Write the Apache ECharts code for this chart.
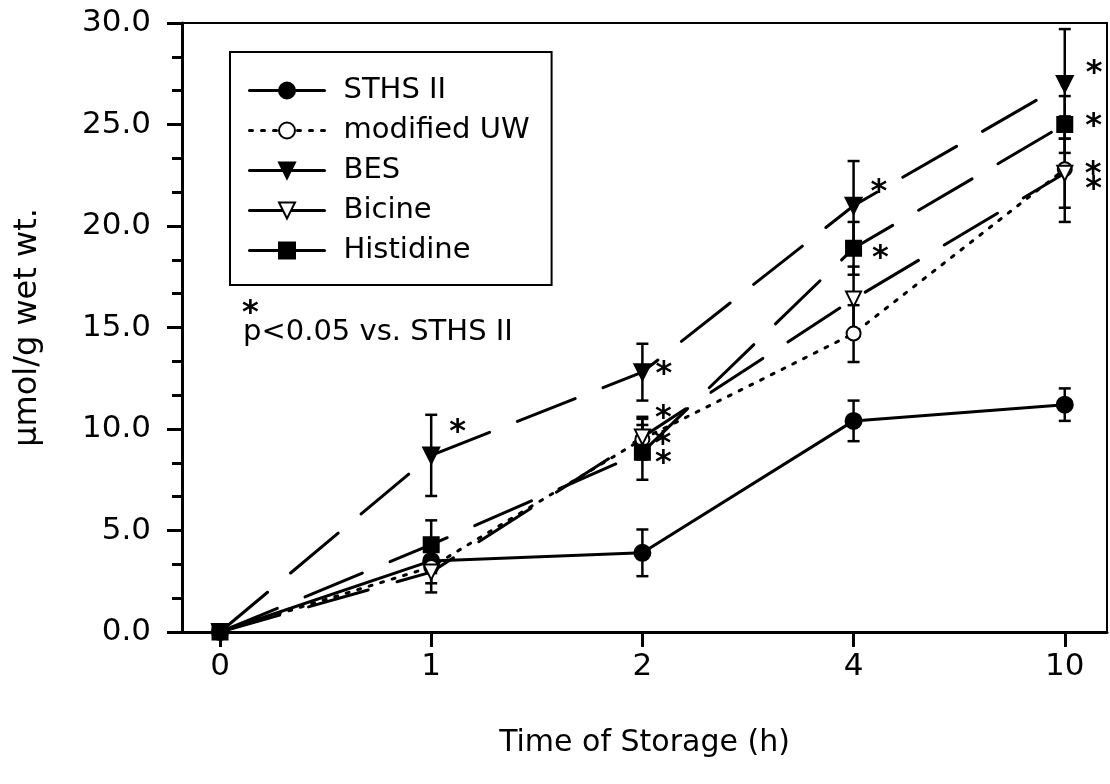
<!DOCTYPE html>
<html>
<head>
<meta charset="utf-8">
<script src="https://cdn.jsdelivr.net/npm/echarts@6/dist/echarts.min.js"></script>
<style>
html,body{margin:0;padding:0;background:#fff;}
#chart{width:1110px;height:784px;}
</style>
</head>
<body>
<div id="chart"></div>
<script>
// ---- data ----
const categories = ['0', '1', '2', '4', '10'];
const seriesNames = ['STHS II', 'modified UW', 'BES', 'Bicine', 'Histidine'];
const sths = [0, 3.5, 3.9, 10.4, 11.2];
const sthsErr = [0, 0.6, 1.15, 1.0, 0.8];
const uw = [0, 3.2, 9.5, 14.7, 22.8];
const uwErr = [0, 0.8, 1.0, 1.4, 2.6];
const bes = [0, 8.7, 12.8, 21.0, 27.0];
const besErr = [0, 2.0, 1.4, 2.2, 2.7];
const bicine = [0, 2.95, 9.6, 16.4, 22.6];
const bicineErr = [0, 1.0, 1.0, 1.6, 1.7];
const histidine = [0, 4.3, 8.85, 18.9, 25.0];
const histidineErr = [0, 1.2, 1.35, 1.3, 1.4];
const sthsStar = [0, 0, 0, 0, 0];
const uwStar = [0, 0, 1, 0, 1];
const besStar = [0, 1, 1, 1, 1];
const bicineStar = [0, 0, 1, 0, 1];
const histidineStar = [0, 0, 1, 1, 1];
const yTicks = [0, 5, 10, 15, 20, 25, 30];

// ---- chart ----
const FONT = "'DejaVu Sans', 'Liberation Sans', Arial, sans-serif";
const chart = echarts.init(document.getElementById('chart'));

const values = [sths, uw, bes, bicine, histidine];
const errs = [sthsErr, uwErr, besErr, bicineErr, histidineErr];
const stars = [sthsStar, uwStar, besStar, bicineStar, histidineStar];

const styles = [
  {symbol: 'circle', size: 16, rotate: 0, fill: '#000', line: 'solid'},
  {symbol: 'circle', size: 14, rotate: 0, fill: '#fff', line: [3, 9]},
  {symbol: 'triangle', size: 16, rotate: 180, fill: '#000', line: [62, 30]},
  {symbol: 'triangle', size: 15, rotate: 180, fill: '#fff', line: [62, 30]},
  {symbol: 'rect', size: 15, rotate: 0, fill: '#000', line: [62, 30]}
];
// asterisk label offsets per series / point
const starOffsets = [
  [[0,0],[0,0],[0,0],[0,0],[0,0]],
  [[0,0],[0,0],[0,6],[0,0],[8,6]],
  [[0,0],[5,-23],[0,3],[4,-13],[8,-10]],
  [[0,0],[0,0],[0,-18],[0,0],[8,16]],
  [[0,0],[0,0],[0,11],[6,10],[8,2]]
];

const series = [];
values.forEach((vals, s) => {
  const st = styles[s];
  series.push({
    type: 'custom',
    name: seriesNames[s] + ' error',
    silent: true,
    z: 3,
    data: vals.map((v, i) => [i, v - errs[s][i], v + errs[s][i]]),
    encode: {x: 0, y: [1, 2]},
    renderItem: function (params, api) {
      if (api.value(2) - api.value(1) <= 0) return null;
      const lo = api.coord([api.value(0), api.value(1)]);
      const hi = api.coord([api.value(0), api.value(2)]);
      const w = 6;
      const style = {stroke: '#000', lineWidth: 2.5};
      return {
        type: 'group',
        children: [
          {type: 'line', shape: {x1: lo[0], y1: lo[1], x2: hi[0], y2: hi[1]}, style},
          {type: 'line', shape: {x1: lo[0] - w, y1: lo[1], x2: lo[0] + w, y2: lo[1]}, style},
          {type: 'line', shape: {x1: hi[0] - w, y1: hi[1], x2: hi[0] + w, y2: hi[1]}, style}
        ]
      };
    }
  });
  series.push({
    type: 'line',
    name: seriesNames[s],
    z: 4,
    data: vals.map((v, i) => ({
      value: [i, v],
      label: {
        show: !!stars[s][i],
        formatter: '*',
        position: 'right',
        distance: 4,
        offset: starOffsets[s][i],
        fontSize: 32,
        fontWeight: 'bold',
        fontFamily: FONT,
        color: '#000'
      }
    })),
    symbol: st.symbol,
    symbolSize: st.size,
    symbolRotate: st.rotate,
    showAllSymbol: true,
    lineStyle: {color: '#000', width: 3, type: st.line, cap: 'round'},
    itemStyle: {color: st.fill, borderColor: '#000', borderWidth: 2},
    emphasis: {disabled: true},
    animation: false
  });
});

const option = {
  animation: false,
  backgroundColor: '#fff',
  textStyle: {fontFamily: FONT, color: '#000'},
  grid: {
    left: 182, right: 3, top: 23, bottom: 152,
    show: true, borderColor: '#000', borderWidth: 2, backgroundColor: 'transparent'
  },
  legend: {
    orient: 'vertical',
    left: 230, top: 52,
    padding: [24, 22, 20, 18],
    itemGap: 11,
    itemWidth: 75,
    itemHeight: 20,
    borderColor: '#000',
    borderWidth: 2,
    backgroundColor: '#fff',
    selectedMode: false,
    textStyle: {fontSize: 29, fontFamily: FONT, color: '#000', lineHeight: 29, padding: [0, 0, 0, 14]},
    data: seriesNames.map((n, s) => ({
      name: n,
      lineStyle: {type: s === 1 ? [3, 9] : 'solid', width: 3, color: '#000'}
    }))
  },
  xAxis: {
    type: 'value',
    min: -0.18, max: 4.2,
    name: 'Time of Storage (h)',
    nameLocation: 'middle',
    nameGap: 96,
    nameTextStyle: {fontSize: 30, fontFamily: FONT, color: '#000'},
    axisLine: {show: true, onZero: false, lineStyle: {color: '#000', width: 3}},
    axisTick: {show: true, inside: false, length: 15, lineStyle: {color: '#000', width: 3}, customValues: [0, 1, 2, 3, 4]},
    axisLabel: {
      customValues: [0, 1, 2, 3, 4],
      formatter: v => categories[Math.round(v)],
      fontSize: 31, fontFamily: FONT, color: '#000', margin: 19
    },
    splitLine: {show: false}
  },
  yAxis: {
    type: 'value',
    min: 0, max: 30, interval: 5,
    name: '\u00B5mol/g wet wt.',
    nameLocation: 'middle',
    nameGap: 138,
    nameTextStyle: {fontSize: 32, fontFamily: FONT, color: '#000'},
    axisLine: {show: true, onZero: false, lineStyle: {color: '#000', width: 3}},
    axisTick: {show: true, inside: false, length: 15, lineStyle: {color: '#000', width: 3}},
    minorTick: {show: true, splitNumber: 3, length: 10, lineStyle: {color: '#000', width: 3}},
    axisLabel: {
      customValues: yTicks,
      formatter: v => v.toFixed(1),
      fontSize: 31, fontFamily: FONT, color: '#000', margin: 31
    },
    splitLine: {show: false}
  },
  graphic: [
    {type: 'text', left: 242, top: 298, style: {text: '*', fontSize: 32, fontWeight: 'bold', fontFamily: FONT, fill: '#000'}},
    {type: 'text', left: 243, top: 318, style: {text: 'p<0.05 vs. STHS II', fontSize: 29, fontFamily: FONT, fill: '#000'}}
  ],
  series: series
};
chart.setOption(option);
</script>
</body>
</html>
